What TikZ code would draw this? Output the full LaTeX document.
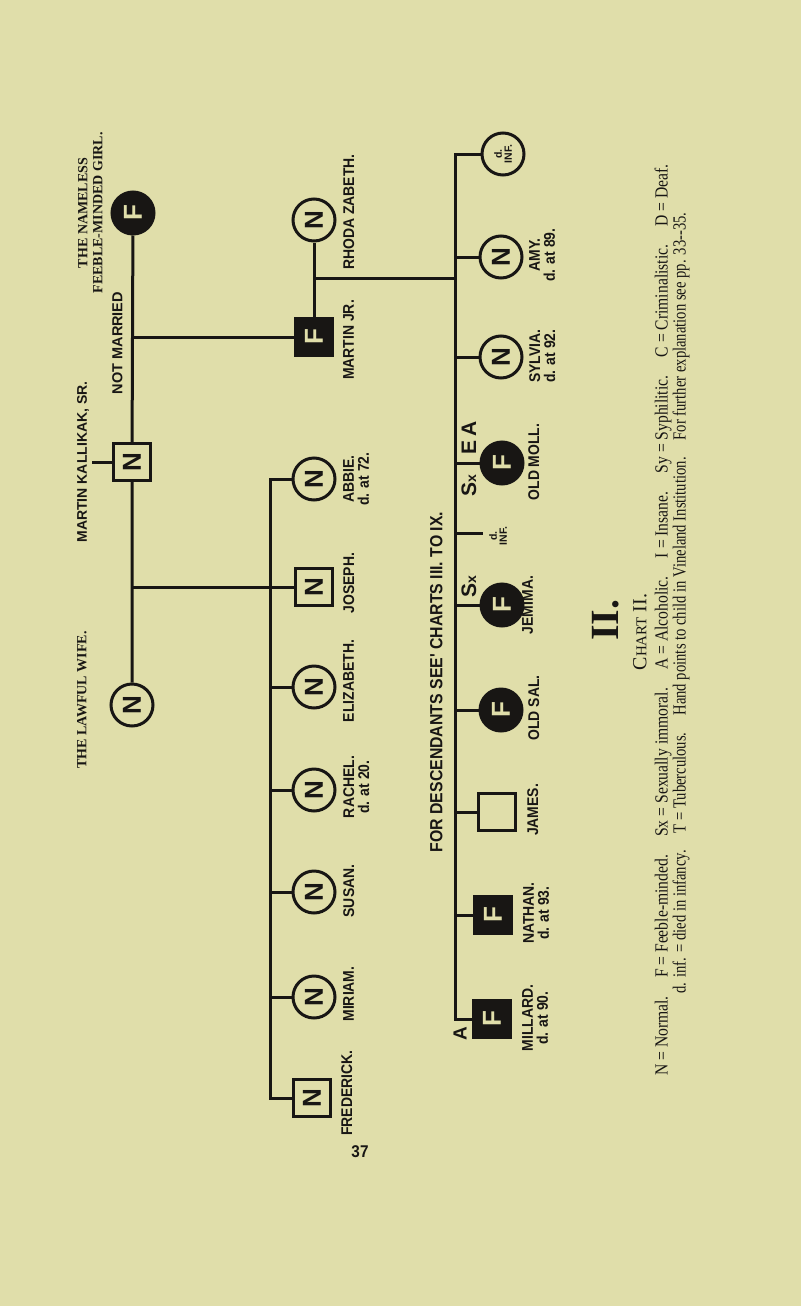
\documentclass[tikz,border=0pt]{standalone}
\usepackage{fontspec}
\setmainfont{Liberation Serif}
\newfontfamily\namefont[FakeStretch=0.9]{Liberation Sans}
\newfontfamily\symbfont{Liberation Sans}
\newfontfamily\legendfont[FakeStretch=0.86]{Liberation Serif}
\usepackage{graphicx}
\usepackage{tikz}
\definecolor{paper}{RGB}{224,222,170}
\definecolor{ink}{RGB}{24,22,20}

\begin{document}
\begin{tikzpicture}[
  x=1pt, y=-1pt,
  ln/.style={line width=3pt, draw=ink},
  fem/.style={circle, draw=ink, line width=3pt, minimum size=42pt, inner sep=0pt, rotate=90, text=ink, font=\symbfont\bfseries\fontsize{26}{26}\selectfont},
  male/.style={fem, rectangle, minimum size=37pt},
  fm/.style={fill=ink, text=paper},
  lbl/.style={rotate=90, anchor=north, inner sep=0pt, align=center, text=ink, font=\namefont\bfseries\fontsize{15.5}{15}\selectfont},
  toplbl/.style={lbl, font=\bfseries\fontsize{14}{15}\selectfont},
  tag/.style={rotate=90, inner sep=0pt, text=ink, font=\symbfont\bfseries\fontsize{21}{21}\selectfont},
  tiny/.style={font=\symbfont\bfseries\fontsize{10.5}{10}\selectfont, align=center},
  legend/.style={rotate=90, inner sep=0pt, text=ink, font=\legendfont\fontsize{18.5}{19}\selectfont}
]
  \fill[paper] (0,0) rectangle (801,1306);
  \useasboundingbox (0,0) rectangle (801,1306);

  % first generation
  \node[fem, fm] (nameless) at (133,213) {F};
  \node[male] (msr) at (132,462) {N};
  \node[fem] (wife) at (132,705) {N};
  \node[toplbl] (namelesslbl) at (78,213) {THE NAMELESS\\FEEBLE-MINDED GIRL.};
  \node[lbl, font=\symbfont\bfseries\fontsize{14}{15}\selectfont] (msrlbl) at (77,462) {MARTIN KALLIKAK, SR.};
  \node[toplbl] (wifelbl) at (77,700) {THE LAWFUL WIFE.};
  \node[lbl, font=\symbfont\bfseries\fontsize{14.5}{15}\selectfont] (notmarried) at (112,343) {NOT MARRIED};
  \coordinate (msrtick) at (92,462);
  \coordinate (jrbr) at (132,337);
  \coordinate (kidsbr) at (132,587);

  % second generation
  \node[fem] (rhoda) at (314,220) {N};
  \node[male, fm] (mjr) at (314,337) {F};
  \node[fem] (abbie) at (314,479) {N};
  \node[male] (joseph) at (314,587) {N};
  \node[fem] (eliz) at (314,687) {N};
  \node[fem] (rachel) at (314,790) {N};
  \node[fem] (susan) at (314,892) {N};
  \node[fem] (miriam) at (314,997) {N};
  \node[male] (fred) at (312,1098) {N};
  \coordinate (g2end) at (270,1098);
  \coordinate (jrkids) at (314,278);

  \node[lbl] (rhodalbl) at (343,212) {RHODA ZABETH.};
  \node[lbl] (mjrlbl) at (343,340) {MARTIN JR.};
  \node[lbl] (abbielbl) at (343,479) {ABBIE.\\d. at 72.};
  \node[lbl] (josephlbl) at (343,583) {JOSEPH.};
  \node[lbl] (elizlbl) at (343,681) {ELIZABETH.};
  \node[lbl] (rachellbl) at (343,787) {RACHEL.\\d. at 20.};
  \node[lbl] (susanlbl) at (343,891) {SUSAN.};
  \node[lbl] (miriamlbl) at (343,994) {MIRIAM.};
  \node[lbl] (fredlbl) at (341,1093) {FREDERICK.};

  % third generation
  \node[fem, tiny] (dinf) at (503,154) {d.\\INF.};
  \node[fem] (amy) at (501,257) {N};
  \node[fem] (sylvia) at (501,357) {N};
  \node[fem, fm] (moll) at (502,463) {F};
  \coordinate (dinfb) at (483,533);
  \node[fem, fm] (jemima) at (502,605) {F};
  \node[fem, fm] (sal) at (501,710) {F};
  \node[male] (james) at (497,812) {};
  \node[male, fm] (nathan) at (493,915) {F};
  \node[male, fm] (millard) at (492,1019) {F};
  \coordinate (g3end) at (455,1019);

  \node[lbl] (amylbl) at (529,255) {AMY.\\d. at 89.};
  \node[lbl] (sylvialbl) at (529,356) {SYLVIA.\\d. at 92.};
  \node[lbl] (molllbl) at (528,462) {OLD MOLL.};
  \node[tag, anchor=north, tiny] (dinfblbl) at (489,536) {d.\\INF.};
  \node[lbl] (jemimalbl) at (522,605) {JEMIMA.};
  \node[lbl] (sallbl) at (528,708) {OLD SAL.};
  \node[lbl] (jameslbl) at (527,810) {JAMES.};
  \node[lbl] (nathanlbl) at (523,913) {NATHAN.\\d. at 93.};
  \node[lbl] (millardlbl) at (522,1018) {MILLARD.\\d. at 90.};
  \node[tag] (mollsx) at (469,486) {S{\fontsize{14}{14}\selectfont x}};
  \node[tag] (mollea) at (469,438) {E\,A};
  \node[tag] (jemsx) at (469,587) {S{\fontsize{14}{14}\selectfont x}};
  \node[tag, font=\symbfont\bfseries\fontsize{19}{19}\selectfont] (millarda) at (460,1034) {A};
  \node[lbl, font=\namefont\bfseries\fontsize{17.6}{18}\selectfont] (seecharts) at (430,682) {FOR DESCENDANTS SEE' CHARTS III. TO IX.};

  % lines of descent
  \draw[ln] (nameless) -- (msr) -- (wife);
  \draw[ln] (msrtick) -- (msr);
  \draw[ln] (jrbr) -- (mjr);
  \draw[ln] (kidsbr) -- (joseph);
  \draw[ln] (rhoda) -- (mjr);
  \draw[ln] (abbie) -| (g2end) -- (fred);
  \foreach \c in {eliz, rachel, susan, miriam}
    \draw[ln] (\c) -- (\c -| g2end);
  \draw[ln] (jrkids) -- (jrkids -| g3end);
  \draw[ln] (dinf) -| (g3end) -- (millard);
  \foreach \c in {amy, sylvia, moll, jemima, sal, james, nathan}
    \draw[ln] (\c) -- (\c -| g3end);
  \draw[ln] (dinfb -| g3end) -- (dinfb);

  % chart title and key
  \node[rotate=90, text=ink, font=\bfseries\fontsize{40}{40}\selectfont] (chartnum) at (606,620) {II.};
  \node[rotate=90, text=ink, font=\fontsize{20}{20}\selectfont] (charttitle) at (640,632) {C{\fontsize{15}{15}\selectfont HART} II.};
  \node[legend] (key1) at (663,620) {\scalebox{0.983}[1]{N = Normal.\quad F = Feeble-minded.\quad Sx = Sexually immoral.\quad A = Alcoholic.\quad I = Insane.\quad Sy = Syphilitic.\quad C = Criminalistic.\quad D = Deaf.}};
  \node[legend] (key2) at (681,603) {\scalebox{0.92}[1]{d. inf. = died in infancy.\quad T = Tuberculous.\quad Hand points to child in Vineland Institution.\quad For further explanation see pp. 33--35.}};
  \node[text=ink, font=\namefont\bfseries\fontsize{17}{17}\selectfont] (pagenum) at (360,1152) {37};
\end{tikzpicture}
\end{document}
